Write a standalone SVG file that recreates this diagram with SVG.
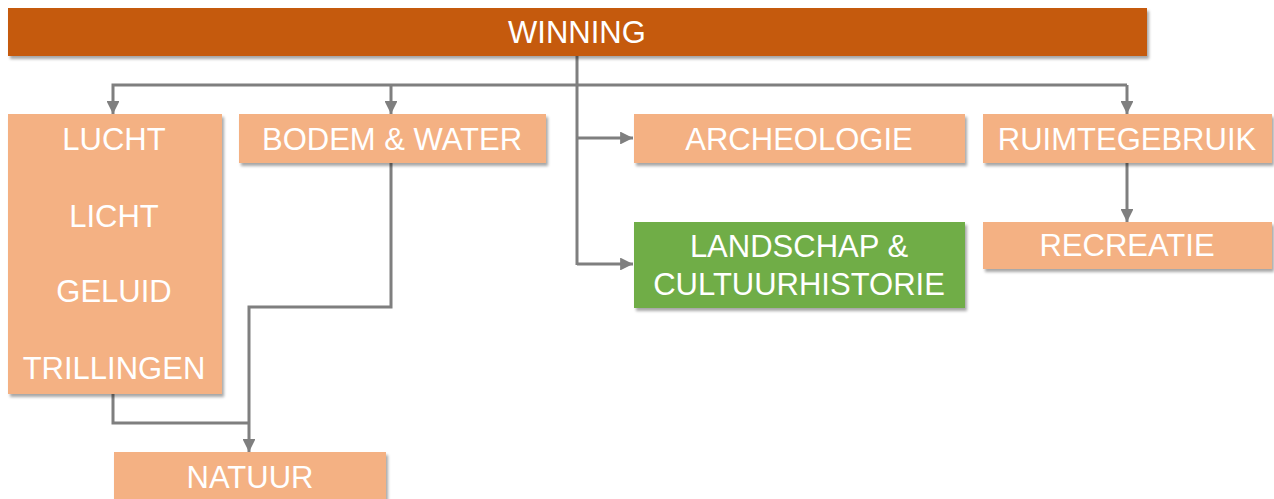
<svg xmlns="http://www.w3.org/2000/svg" width="1274" height="499" viewBox="0 0 1274 499">
<style>
.box{fill:#F4B183;filter:url(#sh)}
.top{fill:#C55A11;filter:url(#sh)}
.green{fill:#70AD47;filter:url(#sh)}
.t{font-family:"Liberation Sans",Arial,sans-serif;font-size:31px;fill:#FFFFFF;text-anchor:middle}
.c{fill:none;stroke:#7F7F7F;stroke-width:3}
.a{fill:none;stroke:#7F7F7F;stroke-width:3;marker-end:url(#arr)}
</style>
<defs>
<filter id="sh" x="-5%" y="-10%" width="115%" height="130%">
<feGaussianBlur in="SourceAlpha" stdDeviation="1.5"/>
<feOffset dx="2" dy="3" result="b"/>
<feComponentTransfer><feFuncA type="linear" slope="0.35"/></feComponentTransfer>
<feMerge><feMergeNode/><feMergeNode in="SourceGraphic"/></feMerge>
</filter>
<marker id="arr" viewBox="0 0 10 10" refX="10" refY="5" markerWidth="4.3" markerHeight="4.3" orient="auto" markerUnits="strokeWidth">
<path d="M0,0 L10,5 L0,10 z" fill="#7F7F7F"/>
</marker>
</defs>
<g id="connectors">
<path class="c" d="M577,56 V265"/>
<path class="a" d="M577,138 H633"/>
<path class="a" d="M577,264 H633"/>
<path class="c" d="M577,85 H1127"/>
<path class="a" d="M577,85 H113 V114"/>
<path class="a" d="M391,85 V114"/>
<path class="a" d="M1127,85 V114"/>
<path class="a" d="M1127,163 V222"/>
<path class="a" d="M391,163 V307 H249 V452"/>
<path class="c" d="M113,394 V423 H249"/>
</g>
<g id="winning"><rect class="top" x="8" y="8" width="1139" height="48"/><text class="t" x="577" y="43">WINNING</text></g>
<g id="lucht"><rect class="box" x="8" y="114" width="214" height="280"/>
<text class="t" x="114" y="150">LUCHT</text><text class="t" x="114" y="227">LICHT</text><text class="t" x="114" y="302">GELUID</text><text class="t" x="114" y="379">TRILLINGEN</text></g>
<g id="bodem"><rect class="box" x="239" y="114" width="307" height="49"/><text class="t" x="392" y="150">BODEM &amp; WATER</text></g>
<g id="archeologie"><rect class="box" x="634" y="114" width="331" height="49"/><text class="t" x="799" y="150">ARCHEOLOGIE</text></g>
<g id="ruimtegebruik"><rect class="box" x="983" y="114" width="289" height="49"/><text class="t" x="1127" y="150">RUIMTEGEBRUIK</text></g>
<g id="landschap"><rect class="green" x="634" y="222" width="331" height="86"/><text class="t" x="799" y="257">LANDSCHAP &amp;</text><text class="t" x="799" y="295">CULTUURHISTORIE</text></g>
<g id="recreatie"><rect class="box" x="983" y="222" width="289" height="47"/><text class="t" x="1127" y="256">RECREATIE</text></g>
<g id="natuur"><rect class="box" x="114" y="452" width="272" height="60"/><text class="t" x="250" y="488">NATUUR</text></g>
</svg>
